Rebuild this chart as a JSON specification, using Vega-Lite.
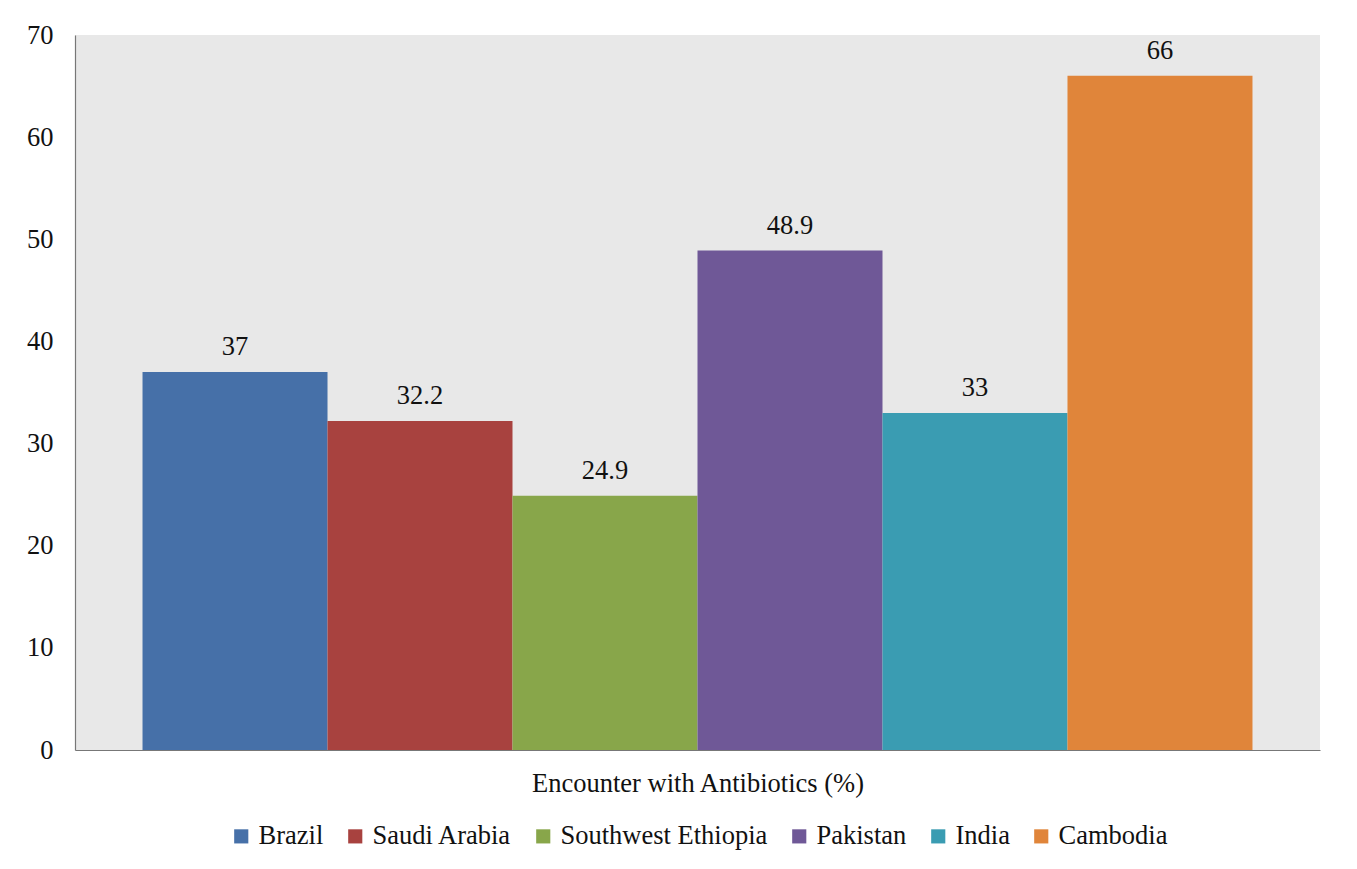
{
  "$schema": "https://vega.github.io/schema/vega-lite/v6.json",
  "autosize": {"type": "none"},
  "padding": {"left": 75, "top": 35, "right": 37, "bottom": 119},
  "width": 1245,
  "height": 715,
  "background": "white",
  "data": {
    "values": [
      {"country": "Brazil", "value": 37},
      {"country": "Saudi Arabia", "value": 32.2},
      {"country": "Southwest Ethiopia", "value": 24.9},
      {"country": "Pakistan", "value": 48.9},
      {"country": "India", "value": 33},
      {"country": "Cambodia", "value": 66}
    ]
  },
  "encoding": {
    "x": {
      "field": "country",
      "type": "nominal",
      "sort": null,
      "scale": {"paddingInner": 0, "paddingOuter": 0.365},
      "axis": {
        "labels": false,
        "ticks": false,
        "title": "Encounter with Antibiotics (%)",
        "titlePadding": 20,
        "titleFontSize": 26.5,
        "titleFontWeight": "normal",
        "titleColor": "#111",
        "domainColor": "#777",
        "domainWidth": 1.2
      }
    },
    "y": {
      "field": "value",
      "type": "quantitative",
      "scale": {"domain": [0, 70]},
      "axis": {
        "values": [0, 10, 20, 30, 40, 50, 60, 70],
        "title": null,
        "grid": false,
        "ticks": false,
        "labelPadding": 22,
        "labelFontSize": 26.5,
        "labelColor": "#111",
        "domainColor": "#777",
        "domainWidth": 1.2
      }
    }
  },
  "layer": [
    {
      "mark": {"type": "bar"},
      "encoding": {
        "color": {
          "field": "country",
          "type": "nominal",
          "sort": null,
          "scale": {
            "domain": ["Brazil", "Saudi Arabia", "Southwest Ethiopia", "Pakistan", "India", "Cambodia"],
            "range": ["#4670a8", "#a8423f", "#88a64a", "#6f5897", "#3a9cb2", "#e0853a"]
          },
          "legend": {
            "title": null,
            "orient": "bottom",
            "direction": "horizontal",
            "symbolType": "square",
            "symbolSize": 200,
            "symbolStrokeWidth": 0,
            "labelFontSize": 26.5,
            "labelOffset": 4,
            "labelColor": "#111",
            "labelLimit": 400,
            "columnPadding": 18,
            "offset": 26
          }
        }
      }
    },
    {
      "mark": {"type": "text", "dy": -25, "fontSize": 26.5, "color": "#111"},
      "encoding": {
        "text": {"field": "value", "type": "quantitative"}
      }
    }
  ],
  "config": {
    "font": "Liberation Serif",
    "text": {"font": "Liberation Serif"},
    "axis": {"labelFont": "Liberation Serif", "titleFont": "Liberation Serif"},
    "legend": {"labelFont": "Liberation Serif", "layout": {"bottom": {"anchor": "middle"}}},
    "view": {"stroke": null, "fill": "#e8e8e8"}
  }
}
